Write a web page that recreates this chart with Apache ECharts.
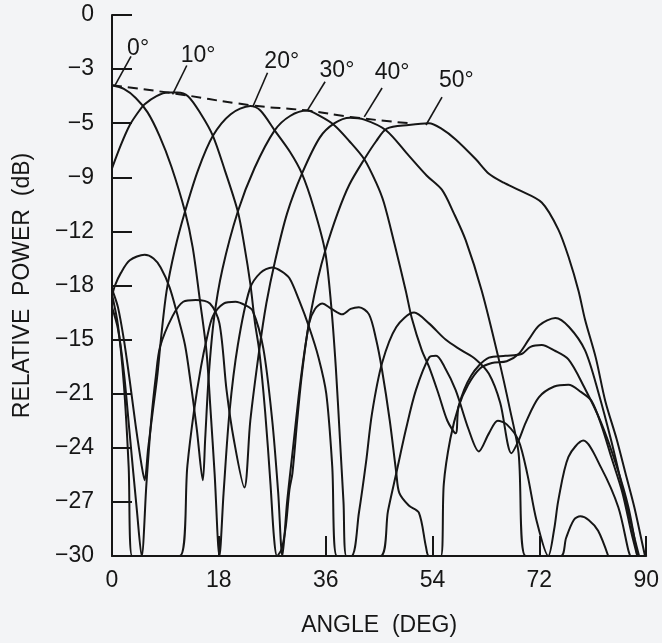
<!DOCTYPE html>
<html>
<head>
<meta charset="utf-8">
<script src="https://cdn.jsdelivr.net/npm/echarts@6/dist/echarts.min.js"></script>
<style>
  html, body { margin: 0; padding: 0; background: #f3f4f6; }
  #chart { width: 662px; height: 643px; }
</style>
</head>
<body>
<div id="chart"></div>
<script>
// tick labels as printed on the figure (top to bottom, every 3 dB)
const yTickLabels = ['0', '−3', '−5', '−9', '−12', '−18', '−15', '−21', '−24', '−27', '−30'];
const xTickLabels = ['0', '18', '36', '54', '72', '90'];

// beam patterns, [angle deg, relative power dB]
const beam0 = [[0,-3.9],[2,-4.1],[4,-4.6],[6,-5.4],[8,-6.7],[10,-8.4],[12.3,-10.9],[13.6,-12.9],[14.8,-15.8],[15.9,-18.6],[16.6,-21.9],[17.3,-25.5],[18.1,-30],
  [18.8,-26.5],[19.8,-22],[21.2,-18.3],[23.2,-15.2],[25,-14.3],[27,-14.0],[28.5,-14.2],[29.9,-14.6],[31.5,-15.8],[33.2,-17.3],[34.8,-19],[36.1,-21],[37.1,-25],[37.9,-30],
  [40.3,-30],[41.6,-27.6],[42.8,-24.8],[43.8,-22.1],[45.5,-19.3],[47.9,-17.3],[50.9,-16.5],[53.4,-17.1],[56.2,-18],[58.9,-18.6],[61.3,-19.1],[63.5,-19.9],[65.4,-21.5],[67.3,-24.3],
  [68.5,-23.6],[69.7,-22.6],[71.9,-21.2],[74.5,-20.6],[76.9,-20.5],[79,-20.9],[80.8,-21.4],[82.5,-22.8],[84.1,-24.5],[86,-26.5],[87.5,-28.7],[88.5,-30]];

const beam10 = [[0,-8.5],[1.5,-7.2],[3,-6.1],[4.5,-5.35],[5.5,-4.95],[7.5,-4.5],[9.4,-4.3],[11,-4.3],[12.8,-4.5],[15,-5.5],[17,-6.7],[19,-8.6],[21.2,-10.9],[22.3,-12.8],
  [23.3,-14.9],[24.1,-17.1],[24.8,-18.6],[25.8,-22],[26.7,-26],[27.3,-29],[27.8,-30],
  [28.6,-29.6],[29.3,-28.3],[29.9,-26.3],[30.4,-25.4],[31.2,-22.5],[32,-19.9],[33.2,-17.1],[34.2,-16.3],[35.4,-16.0],[37,-16.3],[38.8,-16.6],[40.2,-16.3],[41.6,-16.2],
  [43.3,-16.6],[44.5,-18],[45.5,-19.7],[46.8,-22.5],[47.9,-25.4],[48.4,-26.5],[50,-27.2],[51.7,-27.6],[52.9,-29.5],[53.4,-30],
  [55.4,-30],[55.9,-26],[57,-23.5],[58.4,-21.7],[60,-20.5],[62,-19.6],[64,-19.3],[66.5,-19.2],[68.5,-18.8],[70.2,-18.0],[72,-17.2],[74.7,-16.8],[77,-17.3],
  [79.7,-18.6],[82,-21],[84.1,-23.6],[86.2,-26.5],[88.1,-29.1],[88.8,-30]];

const beam20 = [[0,-15.2],[1,-16.2],[2,-18],[3,-20.3],[4,-22.8],[5,-25],[5.5,-25.8],[6.1,-24],[6.9,-21.9],[7.6,-20.1],[8.3,-17.8],[9.2,-15.3],[10.6,-13.0],[12.3,-10.9],
  [14.5,-8.6],[17,-6.7],[20,-5.5],[23.3,-5.05],[25,-5.3],[27.4,-6.4],[30,-7.6],[32,-8.8],[34,-10.7],[35.9,-13.1],[36.9,-16],[37.7,-19.5],[38.4,-23.5],[39,-27],[39.5,-30],
  [45.2,-30],[46.5,-27.5],[47.9,-25.4],[49.5,-23],[51.2,-20.8],[53.4,-19],[54.6,-18.9],[56,-19.5],[57.9,-20.8],[60.1,-23],[61.8,-24.2],[63.5,-23.2],[65,-22.5],[66.5,-22.7],
  [68.5,-23.6],[70,-25.5],[71.5,-28],[73.5,-30],[74.5,-28.5],[75.2,-26.9],[76.9,-24.5],[79.4,-23.6],[82.4,-25.1],[85.3,-27.3],[87,-29.7],[87.3,-30]];

const beam30 = [[0,-15.6],[0.5,-15.0],[1.5,-14.3],[3,-13.6],[5.5,-13.3],[7,-13.5],[8.2,-14.0],[9.7,-15.1],[11,-16.6],[12.3,-18.3],[13.3,-20.5],[14.3,-23],[15.3,-25.8],
  [15.7,-23.5],[16.3,-20],[17.2,-16.8],[18.6,-14.1],[21.2,-10.9],[24,-8.5],[27.4,-6.4],[30,-5.6],[32.9,-5.3],[35,-5.6],[37.4,-6.1],[40,-7],[42.5,-8.0],[44.5,-9.3],
  [45.8,-10.4],[47.6,-12.7],[49.5,-15.3],[50.5,-16.8],[52.2,-18.6],[53.4,-19.5],[55,-21],[56.5,-22.5],[57.9,-23.2],[58.4,-21.7],[60.5,-20],[63.5,-19.0],[66.3,-18.9],
  [69,-18.8],[70.5,-18.4],[72.4,-18.3],[74.5,-18.6],[76.9,-19.1],[79.5,-20.6],[82.4,-22.6],[85,-25],[87,-27.3],[88.5,-30]];

const beam40 = [[0,-16.2],[1,-17.4],[2,-19.8],[3,-23.3],[4.2,-27.5],[5.0,-30],[5.8,-26],[6.6,-22.5],[7.4,-20],[8.1,-18.4],[10.2,-16.7],[12,-15.9],[14.1,-15.8],[16.5,-16],
  [18.1,-17.1],[19.3,-20.8],[20.5,-23.5],[22.3,-26.2],[23.3,-22.5],[24.8,-18.6],[26,-16],[27.5,-13.6],[29.5,-11],[32,-8.8],[35,-6.8],[37.5,-6.0],[40.1,-5.7],[42.5,-5.8],
  [46.2,-6.4],[50,-7.8],[53,-8.9],[55.6,-9.7],[57.6,-11],[59.6,-12.5],[62.3,-15.3],[65.1,-19],[67,-21.8],[68.5,-24.3],[69.7,-30],
  [75.6,-30],[76.5,-29],[77.8,-28],[78.9,-27.8],[80.3,-28],[81.9,-28.6],[83.6,-30]];

const beam50 = [[0,-15.5],[1,-17.2],[2,-20.5],[2.8,-25],[3.4,-30],[11.4,-30],[12.7,-25],[13.8,-22],[15,-19.5],[16,-17.9],[17,-16.7],[18.8,-16.0],[20.8,-15.9],[22.5,-16.1],
  [23.7,-16.4],[25.5,-18.5],[27,-22.5],[28,-26.5],[28.7,-30],[29.5,-27],[30.5,-24],[31.5,-21],[32.5,-18.5],[33.5,-16.5],[34.7,-14.6],[35.9,-13.1],[38,-11],[40,-9.4],
  [42.5,-8.0],[44.5,-7.0],[46.3,-6.3],[50,-6.1],[53.4,-6.0],[55.5,-6.3],[57.9,-6.9],[61.3,-8.0],[63.5,-8.8],[66,-9.3],[68.5,-9.7],[72.4,-10.4],[75.2,-11.9],[77,-13.5],
  [78.6,-15.3],[79.7,-16.9],[81.5,-19],[83.1,-21.4],[85,-23.5],[86.5,-25.4],[88,-27.3],[89.2,-29.1],[89.8,-30]];

// dashed envelope through the beam peaks
const envelope = [[0,-3.9],[9.4,-4.3],[23.3,-5.0],[32.9,-5.3],[40.1,-5.65],[50,-6.0]];

// beam labels: leader line from peak to label, and label centre
const beamNames = ['0°', '10°', '20°', '30°', '40°', '50°'];
const leaderFrom = [[0.5,-3.9],[10.2,-4.4],[23.7,-5.1],[32.9,-5.3],[42.5,-5.65],[52.9,-6.1]];
const leaderTo = [[3.2,-2.3],[12.6,-2.8],[26.2,-3.2],[35.9,-3.7],[45.5,-4.05],[55.6,-4.55]];
const labelAt = [[4.4,-1.85],[14.5,-2.25],[28.6,-2.6],[37.9,-3.1],[47.2,-3.2],[58.0,-3.65]];

const beams = [beam0, beam10, beam20, beam30, beam40, beam50];

const chart = echarts.init(document.getElementById('chart'), null, { renderer: 'canvas' });

const ink = '#161616';
const font = 'Liberation Sans';

const series = [];
beams.forEach(function (b, i) {
  series.push({
    name: beamNames[i],
    type: 'line',
    data: b,
    showSymbol: false,
    smooth: 0.3,
    clip: true,
    lineStyle: { color: ink, width: 2 }
  });
});
series.push({
  type: 'line',
  data: envelope,
  showSymbol: false,
  smooth: true,
  lineStyle: { color: ink, width: 2, type: [10, 6] }
});
leaderFrom.forEach(function (p, i) {
  series.push({
    type: 'line',
    data: [p, leaderTo[i]],
    showSymbol: false,
    lineStyle: { color: ink, width: 1.6 }
  });
});
series.push({
  type: 'scatter',
  data: labelAt.map(function (p, i) { return { value: p, name: beamNames[i] }; }),
  symbolSize: 0,
  itemStyle: { color: ink, opacity: 1 },
  label: {
    show: true,
    position: 'inside',
    formatter: function (p) { return p.name; },
    color: ink,
    opacity: 1,
    textBorderWidth: 0,
    fontFamily: font,
    fontSize: 23
  }
});

const option = {
  animation: false,
  backgroundColor: '#f3f4f6',
  grid: { left: 112, right: 14, top: 15, bottom: 87 },
  xAxis: {
    type: 'value',
    min: 0,
    max: 90,
    interval: 18,
    name: 'ANGLE  (DEG)',
    nameLocation: 'middle',
    nameGap: 58,
    nameTextStyle: { color: ink, fontFamily: font, fontSize: 23 },
    axisLine: { show: true, onZero: false, lineStyle: { color: ink, width: 2 } },
    axisTick: { show: true, inside: true, length: 20, lineStyle: { color: ink, width: 2 } },
    axisLabel: {
      color: ink, fontFamily: font, fontSize: 23, margin: 13,
      formatter: function (v) { return xTickLabels[Math.round(v / 18)]; }
    },
    splitLine: { show: false }
  },
  yAxis: {
    type: 'value',
    min: -30,
    max: 0,
    interval: 3,
    name: 'RELATIVE  POWER  (dB)',
    nameLocation: 'middle',
    nameGap: 78,
    nameRotate: 90,
    nameTextStyle: { color: ink, fontFamily: font, fontSize: 23 },
    axisLine: { show: true, onZero: false, lineStyle: { color: ink, width: 2 } },
    axisTick: { show: true, inside: true, length: 20, lineStyle: { color: ink, width: 2 } },
    axisLabel: {
      color: ink, fontFamily: font, fontSize: 23, margin: 18,
      formatter: function (v) { return yTickLabels[Math.round(-v / 3)]; }
    },
    splitLine: { show: false }
  },
  series: series
};

chart.setOption(option);
</script>
</body>
</html>
